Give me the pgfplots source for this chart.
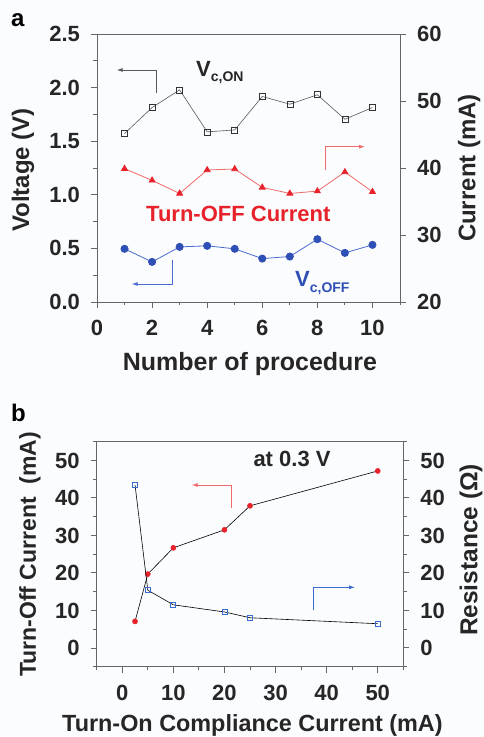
\documentclass[border=0pt]{standalone}
\usepackage{pgfplots}
\pgfplotsset{compat=1.18}
\usepackage{fontspec}
\setmainfont{Liberation Sans}
\usetikzlibrary{arrows.meta}
\definecolor{bg}{HTML}{FBFCFE}
\definecolor{myred}{HTML}{E8222A}
\definecolor{lred}{HTML}{F06A6A}
\definecolor{myblue}{HTML}{2E4FB5}
\definecolor{lblue}{HTML}{4A6CD0}
\definecolor{axgray}{HTML}{666666}
\definecolor{bblue}{HTML}{3A6BD0}
\pgfplotsset{
 myaxis/.style={scale only axis,
  axis line style={axgray, line width=0.9pt},
  every tick/.style={axgray, line width=0.9pt},
  major tick length=6pt, minor tick length=3.5pt, tick align=outside,
  tick label style={font=\fontsize{22}{22}\selectfont\bfseries, text=black!85},
  label style={font=\fontsize{24}{24}\selectfont\bfseries, text=black!85},
  /pgf/number format/assume math mode=true},
}
\begin{document}
\begin{tikzpicture}
\useasboundingbox (0,0) rectangle (483pt,737pt);
\fill[bg] (0,0) rectangle (483pt,737pt);
% ---------------- panel a ----------------
\begin{axis}[myaxis, at={(97pt,435pt)}, anchor=south west, width=303pt, height=268pt,
 xmin=0, xmax=11, ymin=0, ymax=2.5,
 xtick={0,2,4,6,8,10}, minor xtick={1,3,5,7,9,11},
 ytick={0,0.5,1,1.5,2,2.5}, minor ytick={0.25,0.75,1.25,1.75,2.25},
 xtick pos=bottom, ytick pos=left,
 xticklabel shift=8.5pt, yticklabel shift=7.5pt,
 yticklabel={\pgfmathprintnumber[fixed,fixed zerofill,precision=1]{\tick}},
 xlabel={Number of procedure}, ylabel={Voltage (V)},
 xlabel style={at={(axis description cs:0.505,-0.254)}, anchor=base, font=\fontsize{25}{25}\selectfont\bfseries},
 ylabel style={at={(axis description cs:-0.244,0.4925)}, anchor=center}]
\addplot[black!65, line width=0.6pt, mark=square, mark size=3pt,
 mark options={solid, fill=white, draw=black!80, line width=0.6pt}]
 coordinates {(1,1.571)(2,1.814)(3,1.979)(4,1.587)(5,1.605)(6,1.917)(7,1.845)(8,1.933)(9,1.705)(10,1.814)};
\addplot[lblue, line width=0.8pt, mark=*, mark size=3.6pt,
 mark options={solid, fill=myblue, draw=myblue}]
 coordinates {(1,0.496)(2,0.374)(3,0.514)(4,0.524)(5,0.496)(6,0.405)(7,0.424)(8,0.586)(9,0.458)(10,0.533)};
\end{axis}
\begin{axis}[myaxis, at={(97pt,435pt)}, anchor=south west, width=303pt, height=268pt,
 xmin=0, xmax=11, ymin=20, ymax=60, axis x line=none, axis y line*=right,
 ytick={20,30,40,50,60}, yticklabel shift=7.5pt,
 ylabel={Current (mA)},
 ylabel style={at={(axis description cs:1.228,0.5)}, anchor=center}]
\addplot[lred, line width=0.8pt, mark=triangle*, mark size=3.4pt,
 mark options={solid, fill=myred, draw=myred}]
 coordinates {(1,39.9)(2,38.15)(3,36.2)(4,39.7)(5,39.85)(6,37.1)(7,36.2)(8,36.55)(9,39.4)(10,36.45)};
\end{axis}
% ---------------- panel b ----------------
\begin{axis}[myaxis, at={(96.7pt,70.3pt)}, anchor=south west, width=306.6pt, height=225pt,
 xmin=-5, xmax=55, ymin=-5, ymax=55,
 xtick={0,10,20,30,40,50}, minor xtick={-5,5,15,25,35,45,55},
 ytick={0,10,20,30,40,50}, minor ytick={-5,5,15,25,35,45,55},
 xtick pos=bottom, ytick pos=left,
 xticklabel shift=9pt, yticklabel shift=7.5pt,
 xlabel={Turn-On Compliance Current (mA)}, ylabel={Turn-Off Current\ \ (mA)},
 xlabel style={at={(axis description cs:0.508,-0.286)}, anchor=base, font=\fontsize{23.4}{23.4}\selectfont\bfseries},
 ylabel style={at={(axis description cs:-0.2175,0.4987)}, anchor=center, font=\fontsize{23}{23}\selectfont\bfseries}]
\addplot[black, line width=0.6pt, mark=*, mark size=2.5pt,
 mark options={solid, fill=myred, draw=myred}]
 coordinates {(2.5,7.08)(5,19.7)(10,26.7)(20,31.5)(25,37.9)(50,47.2)};
\end{axis}
\begin{axis}[myaxis, at={(96.7pt,70.3pt)}, anchor=south west, width=306.6pt, height=225pt,
 xmin=-5, xmax=55, ymin=-5, ymax=55, axis x line=none, axis y line*=right,
 ytick={0,10,20,30,40,50}, minor ytick={-5,5,15,25,35,45,55},
 yticklabel shift=7.5pt,
 ylabel={Resistance (Ω)},
 ylabel style={at={(axis description cs:1.221,0.519)}, anchor=center, font=\fontsize{24.5}{24.5}\selectfont\bfseries}]
\addplot[black, line width=0.6pt, mark=square, mark size=2.5pt,
 mark options={solid, fill=white, draw=bblue, line width=0.8pt}]
 coordinates {(2.5,43.5)(5,15.4)(10,11.5)(20,9.6)(25,8.05)(50,6.46)};
\end{axis}
% ---------------- annotations ----------------
\begin{scope}[line width=0.8pt]
\draw[black!65, -{Latex[length=6pt,width=4pt]}] (156.7pt,643.7pt) -- (156.7pt,667pt) -- (116.7pt,667pt);
\draw[lred, -{Latex[length=6pt,width=4pt]}] (325pt,567pt) -- (325pt,590.3pt) -- (365pt,590.3pt);
\draw[lblue, -{Latex[length=6pt,width=4pt]}] (172.7pt,477pt) -- (172.7pt,453pt) -- (131.7pt,453pt);
\draw[lred, -{Latex[length=6pt,width=4pt]}] (231.7pt,228.7pt) -- (231.7pt,252pt) -- (191.7pt,252pt);
\draw[bblue, -{Latex[length=6pt,width=4pt]}] (313.3pt,127pt) -- (313.3pt,149.7pt) -- (355pt,149.7pt);
\end{scope}
\node[anchor=base west, inner sep=0, text=black!85, font=\fontsize{22}{22}\selectfont\bfseries] at (196pt,660.3pt) {V\raisebox{-5pt}{\fontsize{14}{14}\selectfont c,ON}};
\node[anchor=base, inner sep=0, text=myred, font=\fontsize{22}{22}\selectfont\bfseries] at (238.3pt,515.3pt) {Turn-OFF Current};
\node[anchor=base west, inner sep=0, text=myblue, font=\fontsize{22}{22}\selectfont\bfseries] at (295pt,450.3pt) {V\raisebox{-6pt}{\fontsize{14}{14}\selectfont c,OFF}};
\node[anchor=base west, inner sep=0, text=black!85, font=\fontsize{22}{22}\selectfont\bfseries] at (253.3pt,270.3pt) {at 0.3 V};
\node[anchor=base west, inner sep=0, text=black, font=\fontsize{24}{24}\selectfont\bfseries] at (11pt,710.3pt) {a};
\node[anchor=base west, inner sep=0, text=black, font=\fontsize{24}{24}\selectfont\bfseries] at (11pt,315.3pt) {b};
\end{tikzpicture}
\end{document}
